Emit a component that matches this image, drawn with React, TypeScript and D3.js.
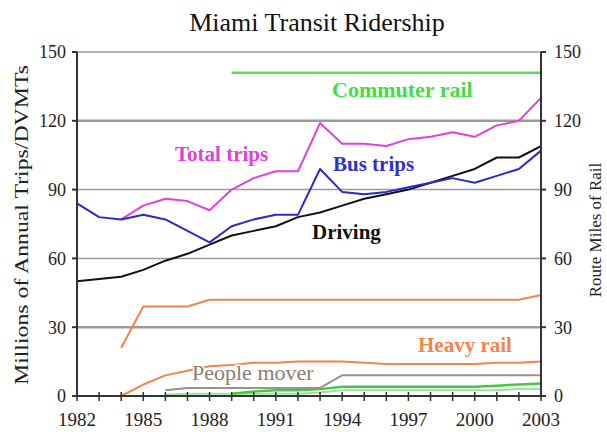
import React from "react";
import * as d3 from "d3";

// years on the x axis
const years = [1982, 1983, 1984, 1985, 1986, 1987, 1988, 1989, 1990, 1991, 1992, 1993, 1994, 1995, 1996, 1997, 1998, 1999, 2000, 2001, 2002, 2003];

// millions of annual trips / DVMTs (left axis)
const totalTrips = [null, null, 77, 83, 86, 85, 81, 90, 95, 98, 98, 119, 110, 110, 109, 112, 113, 115, 113, 118, 120, 130];
const busTrips = [84, 78, 77, 79, 77, 72, 67, 74, 77, 79, 79, 99, 89, 88, 89, 91, 93, 95, 93, 96, 99, 107];
const driving = [50, 51, 52, 55, 59, 62, 66, 70, 72, 74, 78, 80, 83, 86, 88, 90, 93, 96, 99, 104, 104, 109];
const heavyRailTrips = [null, null, 0, 5, 9, 11, 13, 13.5, 14.5, 14.5, 15, 15, 15, 14.5, 14, 14, 14, 14, 14, 14.5, 14.5, 15];
const commuterRailTrips = [null, null, null, null, null, null, null, 1, 2, 2.5, 2.5, 3, 4, 4, 4, 4, 4, 4, 4, 4.5, 5, 5.5];
const peopleMoverTrips = [null, null, null, null, 0.5, 1, 1, 1, 1, 1, 1, 1.5, 2.5, 2.5, 2.5, 2.5, 2.5, 2.5, 2.5, 2.5, 3, 3];

// route miles of rail (right axis)
const heavyRailMiles = [null, null, 21, 39, 39, 39, 42, 42, 42, 42, 42, 42, 42, 42, 42, 42, 42, 42, 42, 42, 42, 44];
const commuterRailMiles = [null, null, null, null, null, null, null, 141, 141, 141, 141, 141, 141, 141, 141, 141, 141, 141, 141, 141, 141, 141];
const peopleMoverMiles = [null, null, null, null, 2.5, 3.5, 3.5, 3.5, 3.5, 3.5, 3.5, 3.5, 9, 9, 9, 9, 9, 9, 9, 9, 9, 9];

const yTicks = [0, 30, 60, 90, 120, 150];
const xLabelYears = [1982, 1985, 1988, 1991, 1994, 1997, 2000, 2003];

const font = "'Liberation Serif', 'Times New Roman', serif";

const App = () => {
  const width = 607;
  const height = 432;
  const x = d3.scaleLinear().domain([1982, 2003]).range([77, 541]);
  const y = d3.scaleLinear().domain([0, 150]).range([396, 52]);

  const line = d3
    .line<number | null>()
    .defined((d) => d != null)
    .x((d, i) => x(years[i]))
    .y((d) => y(d as number));

  const series = [
    { values: peopleMoverTrips, color: "#9ee29a", w: 2 },
    { values: commuterRailTrips, color: "#44c844", w: 2.5 },
    { values: peopleMoverMiles, color: "#9a9288", w: 2 },
    { values: heavyRailTrips, color: "#f0864a", w: 2 },
    { values: heavyRailMiles, color: "#f0864a", w: 2 },
    { values: commuterRailMiles, color: "#55e055", w: 2.5 },
    { values: driving, color: "#111111", w: 2 },
    { values: totalTrips, color: "#e040e0", w: 2 },
    { values: busTrips, color: "#2a2ac8", w: 2 },
  ];

  const labelStyle = { fontFamily: font, fontWeight: "bold" as const, fontSize: 21 };

  return (
    <svg width={width} height={height} style={{ position: "absolute", left: 0, top: 0, background: "#fff" }}>
      {/* title */}
      <text x={317} y={31} textAnchor="middle" fontFamily={font} fontSize={26} fill="#111">
        Miami Transit Ridership
      </text>

      {/* gridlines */}
      {yTicks.slice(1).map((t) => (
        <line key={"g" + t} x1={x(1982)} x2={x(2003)} y1={y(t)} y2={y(t)} stroke="#9a9a9a" strokeWidth={t === 120 || t === 30 ? 2.5 : 1.5} />
      ))}

      {/* data lines */}
      {series.map((s, i) => (
        <path key={i} d={line(s.values) || ""} fill="none" stroke={s.color} strokeWidth={s.w} strokeLinejoin="round" />
      ))}

      {/* axes */}
      <line x1={x(1982)} x2={x(1982)} y1={y(150)} y2={y(0)} stroke="#333" strokeWidth={2} />
      <line x1={x(2003)} x2={x(2003)} y1={y(150)} y2={y(0)} stroke="#333" strokeWidth={2} />
      <line x1={x(1982)} x2={x(2003)} y1={y(0)} y2={y(0)} stroke="#333" strokeWidth={2} />

      {yTicks.map((t) => (
        <g key={"yt" + t}>
          <line x1={x(1982) - 5} x2={x(1982)} y1={y(t)} y2={y(t)} stroke="#333" strokeWidth={2} />
          <text x={66} y={y(t)} dy="0.35em" textAnchor="end" fontFamily={font} fontSize={18} fill="#222">
            {t}
          </text>
          <line x1={x(2003)} x2={x(2003) + 5} y1={y(t)} y2={y(t)} stroke="#333" strokeWidth={2} />
          <text x={554} y={y(t)} dy="0.35em" textAnchor="start" fontFamily={font} fontSize={18} fill="#222">
            {t}
          </text>
        </g>
      ))}

      {years.map((yr) => (
        <line key={"xt" + yr} x1={x(yr)} x2={x(yr)} y1={y(0) - 4} y2={y(0) + 5} stroke="#333" strokeWidth={1.5} />
      ))}
      {xLabelYears.map((yr) => (
        <text key={"xl" + yr} x={x(yr)} y={426} textAnchor="middle" fontFamily={font} fontSize={19} fill="#222">
          {yr}
        </text>
      ))}

      {/* axis titles */}
      <text transform="translate(28,225) rotate(-90)" textAnchor="middle" fontFamily={font} fontSize={18} fill="#222" textLength={320} lengthAdjust="spacingAndGlyphs">
        Millions of Annual Trips/DVMTs
      </text>
      <text transform="translate(601,230) rotate(-90)" textAnchor="middle" fontFamily={font} fontSize={17} fill="#222">
        Route Miles of Rail
      </text>

      {/* series labels */}
      <text x={332} y={97} {...labelStyle} fontSize={22} fill="#44dd44">Commuter rail</text>
      <text x={175} y={161} {...labelStyle} fill="#e040e0">Total trips</text>
      <text x={333} y={171} {...labelStyle} fill="#3030cc">Bus trips</text>
      <text x={312} y={239} {...labelStyle} fill="#111">Driving</text>
      <text x={418} y={352} {...labelStyle} fill="#f0864a">Heavy rail</text>
      <text x={192} y={380} fontFamily={font} fontSize={22} fill="#8a7e70" stroke="#fff" strokeWidth={3} paintOrder="stroke">
        People mover
      </text>
    </svg>
  );
};

export default App;
